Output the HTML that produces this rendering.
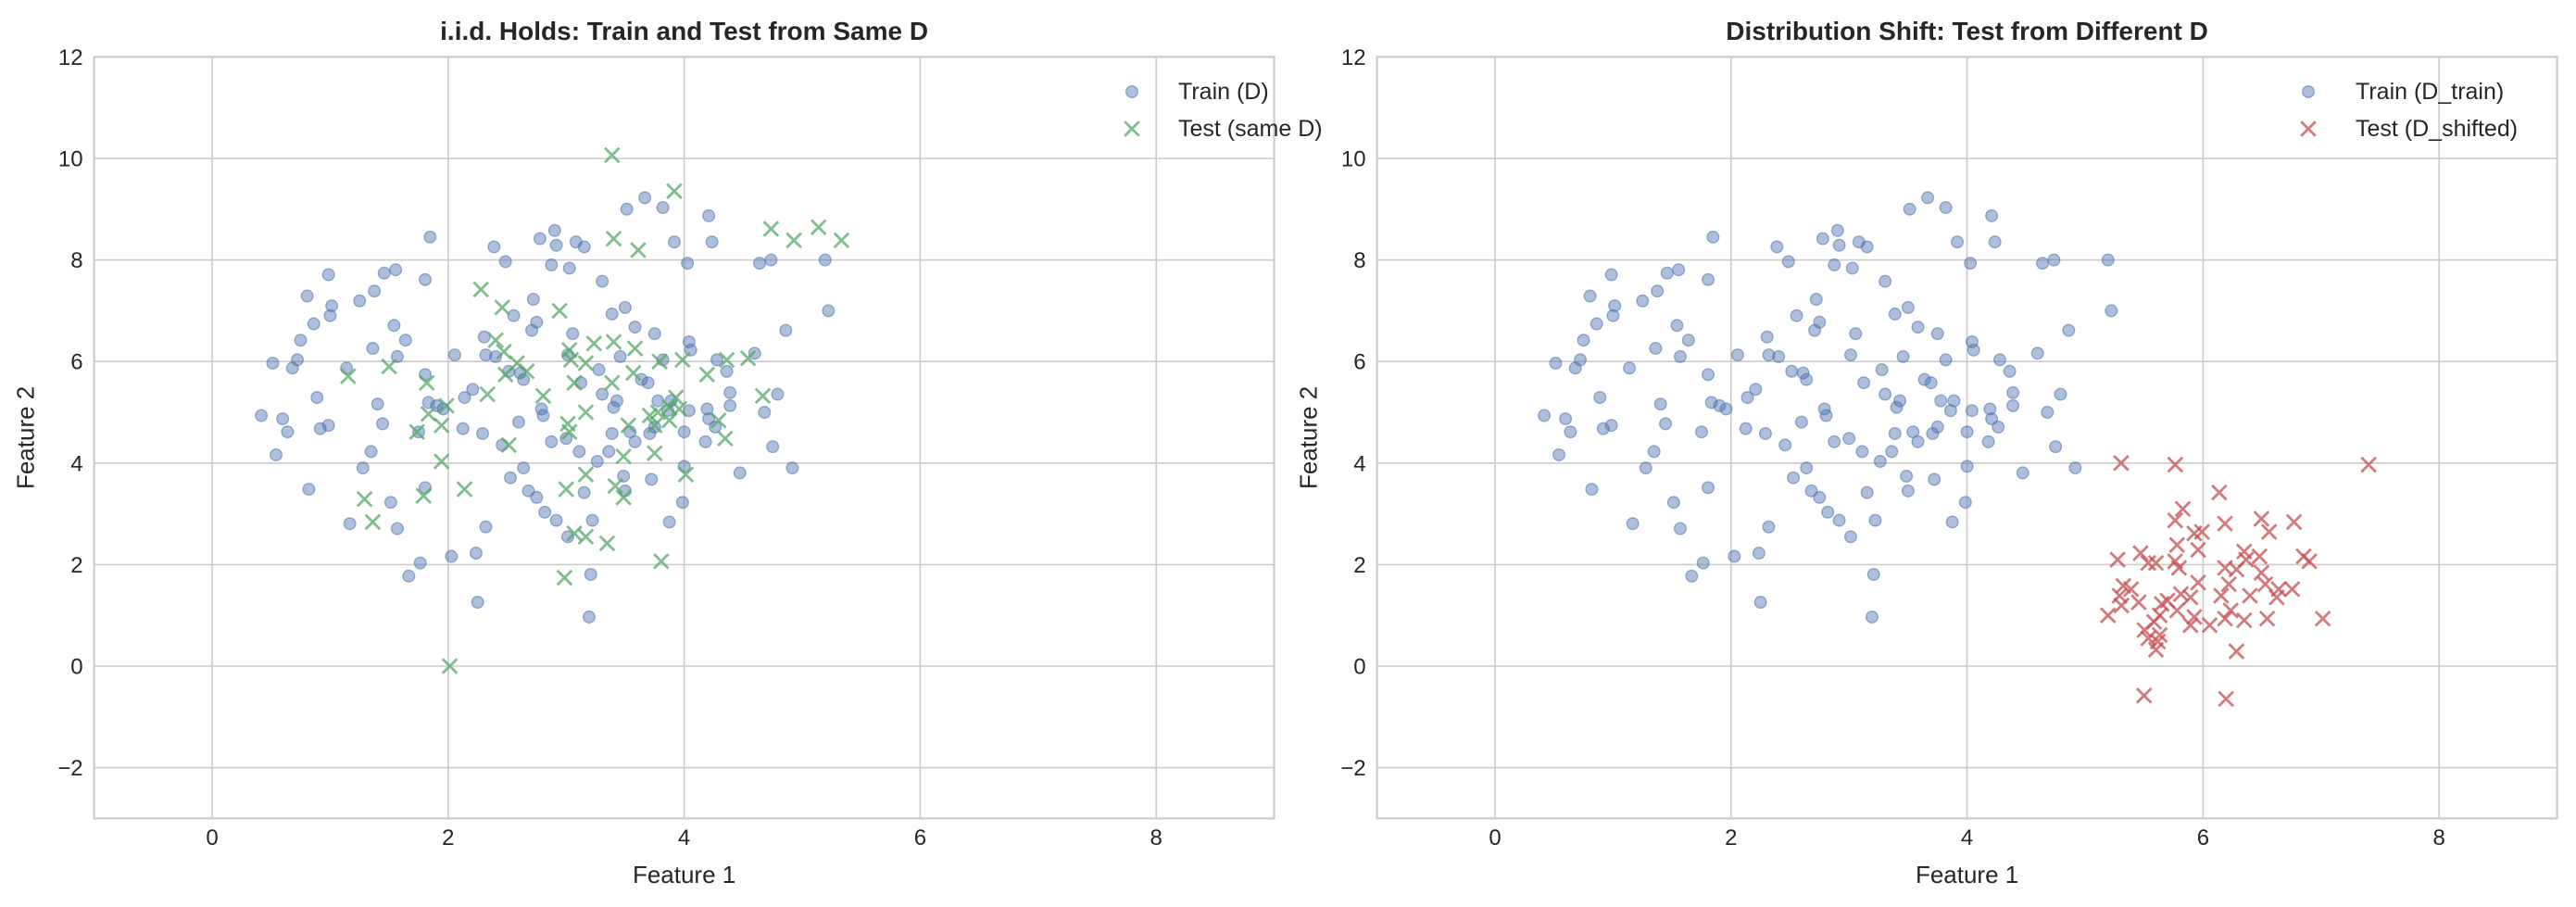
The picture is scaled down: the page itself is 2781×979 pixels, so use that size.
<!DOCTYPE html>
<html><head><meta charset="utf-8"><style>html,body{margin:0;padding:0;background:#fff}svg{display:block}</style></head>
<body>
<svg id="s" width="2781" height="979" viewBox="0 0 2781 979" xmlns="http://www.w3.org/2000/svg" font-family="Liberation Sans, sans-serif">
<g id="root"></g>
</svg>
<script>
const NS="http://www.w3.org/2000/svg";
const root=document.getElementById('root');
function el(t,a,txt){const e=document.createElementNS(NS,t);for(const k in a)e.setAttribute(k,a[k]);if(txt!==undefined)e.textContent=txt;root.appendChild(e);return e;}
const train=[[945,220],[938,252],[947,276],[967,297],[992,318],[1005,274],[1017,305],[1021,321],[1028,350],[1038,296],[1035,342],[1054,338],[1070,366],[1069,336],[1075,320],[1090,290],[1098,284],[1101,298],[1111,311],[1118,316],[1125,326],[1135,299],[1138,375],[1140,316],[1139,349],[1159,289],[1160,298],[1176,291],[1187,317],[1195,305],[1196,283],[1209,268],[1245,250],[1250,271],[1262,284],[1199,249],[1211,254],[1215,259],[1224,246],[1224,238],[1170,230],[1183,218],[1200,212],[1199,207],[1216,218],[1239,214],[1230,287],[1222,225],[1253,239],[1166,198],[1178,202],[1152,190],[1160,186],[1146,170],[1115,160],[1126,162],[1087,158],[1080,149],[1108,144],[1117,139],[1130,146],[1118,148],[1135,149],[1161,126],[1172,119],[1183,125],[1190,146],[1198,159],[1211,130],[1213,146],[1242,159],[1249,157],[1282,157],[1284,188],[1258,200],[1041,143],[1038,169],[1020,163],[1013,165],[1007,176],[998,182],[981,185],[980,191],[979,166],[970,196],[966,179],[962,206],[960,218],[957,223],[990,223],[1006,211],[1019,197],[1026,206],[1021,216],[1038,227],[1040,244],[1056,215],[1067,236],[1074,204],[1075,215],[1081,216],[1089,225],[1092,191],[1106,195],[1104,181],[1103,200],[1128,202],[1125,215],[1133,232],[1144,224],[1146,239],[1155,243],[1153,247],[1157,216],[1174,232],[1178,259],[1180,243],[1188,243],[1186,249],[1163,262],[1175,263],[1166,268],[1150,274],[1152,263],[1132,274],[1124,266],[1115,268],[1110,252],[1109,248],[1095,256],[1098,230],[1096,226],[1085,270],[1073,263],[1061,260],[1062,241],[1049,248],[1045,246],[1034,262],[1012,257],[1009,245],[1000,284],[979,258],[974,260],[972,241],[951,254],[954,262],[1196,262],[1143,280],[1106,302],[1210,248]];
const redRaw=[[1296,309],[1315,299],[1302,324],[1293,331],[1292,341],[1306,323],[1304,334],[1294,345],[1282,342],[1295,361],[1288,365],[1293,371],[1284,374],[1281,378],[1283,390],[1300,380],[1310,380],[1318,376],[1316,362],[1300,363],[1284,386],[1278,388],[1276,383],[1273,366],[1304,354],[1262,340],[1265,356],[1263,362],[1269,358],[1264,368],[1274,336],[1278,342],[1285,367],[1318,345],[1320,355],[1324,346],[1337,348],[1345,363],[1346,358],[1353,358],[1336,338],[1329,340],[1337,315],[1341,323],[1354,317],[1359,338],[1339,355],[1340,376],[1328,377],[1321,371],[1331,362],[1362,341],[1369,376],[1324,396],[1302,375],[1257,374],[1328,335],[1318,318],[1292,316],[1282,395]];
const red=redRaw.map(p=>[1282+(p[0]-1257)*1.17,p[1]]).concat([[1290,281],[1323,282],[1441,282],[1304,423],[1354,425]]);
const green=[[372,93],[410,115],[498,137],[512,145],[469,138],[483,145],[373,144],[388,151],[292,175],[305,186],[340,188],[346,212],[361,208],[386,211],[373,207],[301,206],[306,213],[314,220],[320,225],[356,220],[347,218],[349,232],[372,232],[385,226],[401,219],[415,218],[430,227],[442,218],[455,217],[464,240],[411,241],[407,247],[400,250],[395,252],[413,248],[407,255],[398,258],[437,255],[441,266],[211,228],[236,222],[259,232],[271,246],[260,251],[253,262],[268,258],[307,227],[296,239],[330,240],[346,262],[345,257],[309,270],[356,250],[382,258],[417,288],[398,275],[374,295],[356,288],[379,302],[344,297],[349,324],[356,326],[369,330],[402,341],[343,351],[257,301],[226,317],[282,297],[273,405],[379,277],[268,280],[221,303]];
const UX=127.4, UY=54.8, Y0=719;
function circ(x,y){el('circle',{cx:x,cy:y,r:6.3,fill:'#4c72b0','fill-opacity':0.45,stroke:'#4c72b0','stroke-opacity':0.55,'stroke-width':1.4});}
function cross(x,y,c){const s=7.8;el('path',{d:`M${x-s} ${y-s}L${x+s} ${y+s}M${x-s} ${y+s}L${x+s} ${y-s}`,stroke:c,'stroke-opacity':0.75,'stroke-width':2.8});}
function panel(X0,dispX0,title,leg1,leg2,xc,pts,lm,lt){
  const L=X0-UX,R=X0+9*UX,T=Y0-12*UY,B=Y0+3*UY;
  for(let v=0;v<=8;v+=2){const x=X0+UX*v;el('line',{x1:x,x2:x,y1:T,y2:B,stroke:'#cccccc','stroke-width':1.6});
    el('text',{x:x,y:912,'font-size':24,'text-anchor':'middle',fill:'#262626'},String(v));}
  for(let v=-2;v<=12;v+=2){const y=Y0-UY*v;el('line',{x1:L,x2:R,y1:y,y2:y,stroke:'#cccccc','stroke-width':1.6});
    el('text',{x:L-12,y:y+8.5,'font-size':24,'text-anchor':'end',fill:'#262626'},v<0?'\u2212'+(-v):String(v));}
  el('rect',{x:L,y:T,width:R-L,height:B-T,fill:'none',stroke:'#cccccc','stroke-width':2.2});
  el('text',{x:(L+R)/2,y:43,'font-size':28,'font-weight':'bold','text-anchor':'middle',fill:'#262626'},title);
  el('text',{x:(L+R)/2,y:953,'font-size':26,'text-anchor':'middle',fill:'#262626'},'Feature 1');
  el('text',{x:0,y:0,'font-size':26,'text-anchor':'middle',fill:'#262626',transform:`translate(${L-65},${(T+B)/2}) rotate(-90)`},'Feature 2');
  const mx=p=>X0+(p-dispX0)*UX/72, my=p=>Y0-(405-p)*UY/31;
  train.forEach(p=>circ(X0+(p[0]-908)*UX/72,my(p[1])));
  pts.forEach(p=>cross(mx(p[0]),my(p[1]),xc));
  circ(lm,99); cross(lm,139,xc);
  el('text',{x:lt,y:107,'font-size':25,fill:'#262626'},leg1);
  el('text',{x:lt,y:147,'font-size':25,fill:'#262626'},leg2);
}
panel(229,128,'i.i.d. Holds: Train and Test from Same D','Train (D)','Test (same D)','#55a868',green,1222,1272);
panel(1614,908,'Distribution Shift: Test from Different D','Train (D_train)','Test (D_shifted)','#c44e52',red,2492,2543);
</script>
</body></html>
